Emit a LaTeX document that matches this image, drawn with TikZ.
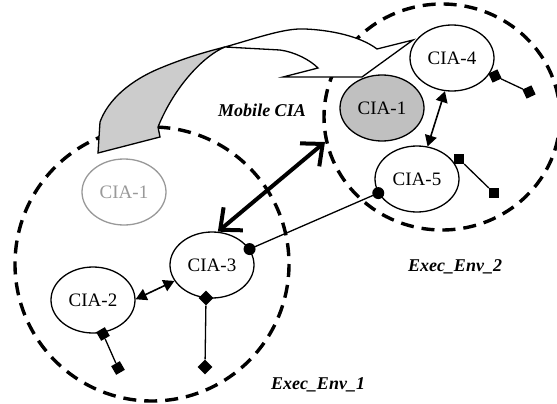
\documentclass[tikz,border=0pt]{standalone}
\usepackage{fontspec}
\setmainfont{Liberation Serif}
\usetikzlibrary{shapes.geometric,arrows.meta}
\definecolor{shapegray}{HTML}{CCCCCC}
\definecolor{nodegray}{HTML}{C0C0C0}
\definecolor{oldgray}{HTML}{999999}
\tikzset{
  envline/.style={line width=3.4pt, dash pattern=on 13pt off 8pt},
  cia/.style={ellipse, draw, line width=1.3pt, fill=white, minimum width=84pt, minimum height=66pt, inner sep=0pt, font=\fontsize{19}{22}\selectfont},
  lbl/.style={font=\fontsize{18}{21}\selectfont\bfseries\itshape},
  dotmark/.style={circle, fill=black, inner sep=0pt, minimum size=12pt},
  dia/.style={diamond, fill=black, inner sep=0pt, minimum width=15pt, minimum height=15pt},
  sqm/.style={rectangle, fill=black, inner sep=0pt, minimum size=10pt},
  conn/.style={line width=1.3pt},
  smallarrow/.style={line width=1.6pt, {Triangle[length=11pt,width=12pt]}-{Triangle[length=11pt,width=12pt]}},
  bigarrow/.style={line width=4pt, {Straight Barb[length=17pt,width=30pt]}-{Straight Barb[length=17pt,width=30pt]}}
}
\begin{document}
\begin{tikzpicture}[x=1pt,y=-1pt]
\useasboundingbox (0,0) rectangle (557,404);
% execution environments
\draw[envline] (152,264) ellipse [x radius=137, y radius=137];
\draw[envline] (442,117) ellipse [x radius=118, y radius=113];
% migration shape
\filldraw[fill=shapegray, line width=1.3pt] (98,153) -- (100,122)
  .. controls (108,100) and (130,80) .. (163,67)
  .. controls (185,58) and (205,52) .. (225,47)
  .. controls (205,55) and (175,85) .. (158,127) -- (160,137) -- cycle;
\filldraw[fill=white, line width=1.3pt] (225,47)
  .. controls (260,37) and (285,28) .. (305,29)
  .. controls (330,30) and (360,36) .. (377,49) -- (413,40) -- (362,77) -- (283,77) -- (318,68)
  .. controls (310,60) and (295,52) .. (280,50) -- cycle;
% nodes
\node[cia, draw=oldgray, text=oldgray] (old1) at (124,192) {CIA-1};
\node[cia, fill=nodegray] (cia1) at (382,108) {CIA-1};
\node[cia] (cia4) at (452,58) {CIA-4};
\node[cia] (cia5) at (417,179) {CIA-5};
\node[cia] (cia3) at (212,265) {CIA-3};
\node[cia] (cia2) at (93,300) {CIA-2};
% labels
\node[lbl] (mob) at (262,110) {Mobile CIA};
\node[lbl] (env2) at (455,267) {Exec\_Env\_2};
\node[lbl] (env1) at (318,385) {Exec\_Env\_1};
% big migration arrow
\coordinate (mtip) at (325,142);
\draw[bigarrow] (cia3.80) -- (mtip);
% interaction arrows
\draw[smallarrow] (cia4.258) -- (cia5.72);
\draw[smallarrow] (cia2.1) -- (cia3.203);
% connector CIA-3 -- CIA-5
\draw[conn] (cia3.23) -- (cia5.200);
\node[dotmark] (d3) at (cia3.23) {};
\node[dotmark] (d5) at (cia5.200) {};
% stubs
\node[dia] (p3a) at (206,298) {};
\node[dia] (p3b) at (205,367) {};
\draw[conn] (p3a) -- (p3b);
\node[sqm, rotate=30] (p2a) at (103,334) {};
\node[sqm, rotate=30] (p2b) at (118,368) {};
\draw[conn] (p2a) -- (p2b);
\node[sqm, rotate=25] (p4a) at (495,76) {};
\node[sqm, rotate=25] (p4b) at (529,92) {};
\draw[conn] (p4a) -- (p4b);
\node[sqm] (p5a) at (459,159) {};
\node[sqm] (p5b) at (494,193) {};
\draw[conn] (p5a) -- (p5b);
\end{tikzpicture}
\end{document}
